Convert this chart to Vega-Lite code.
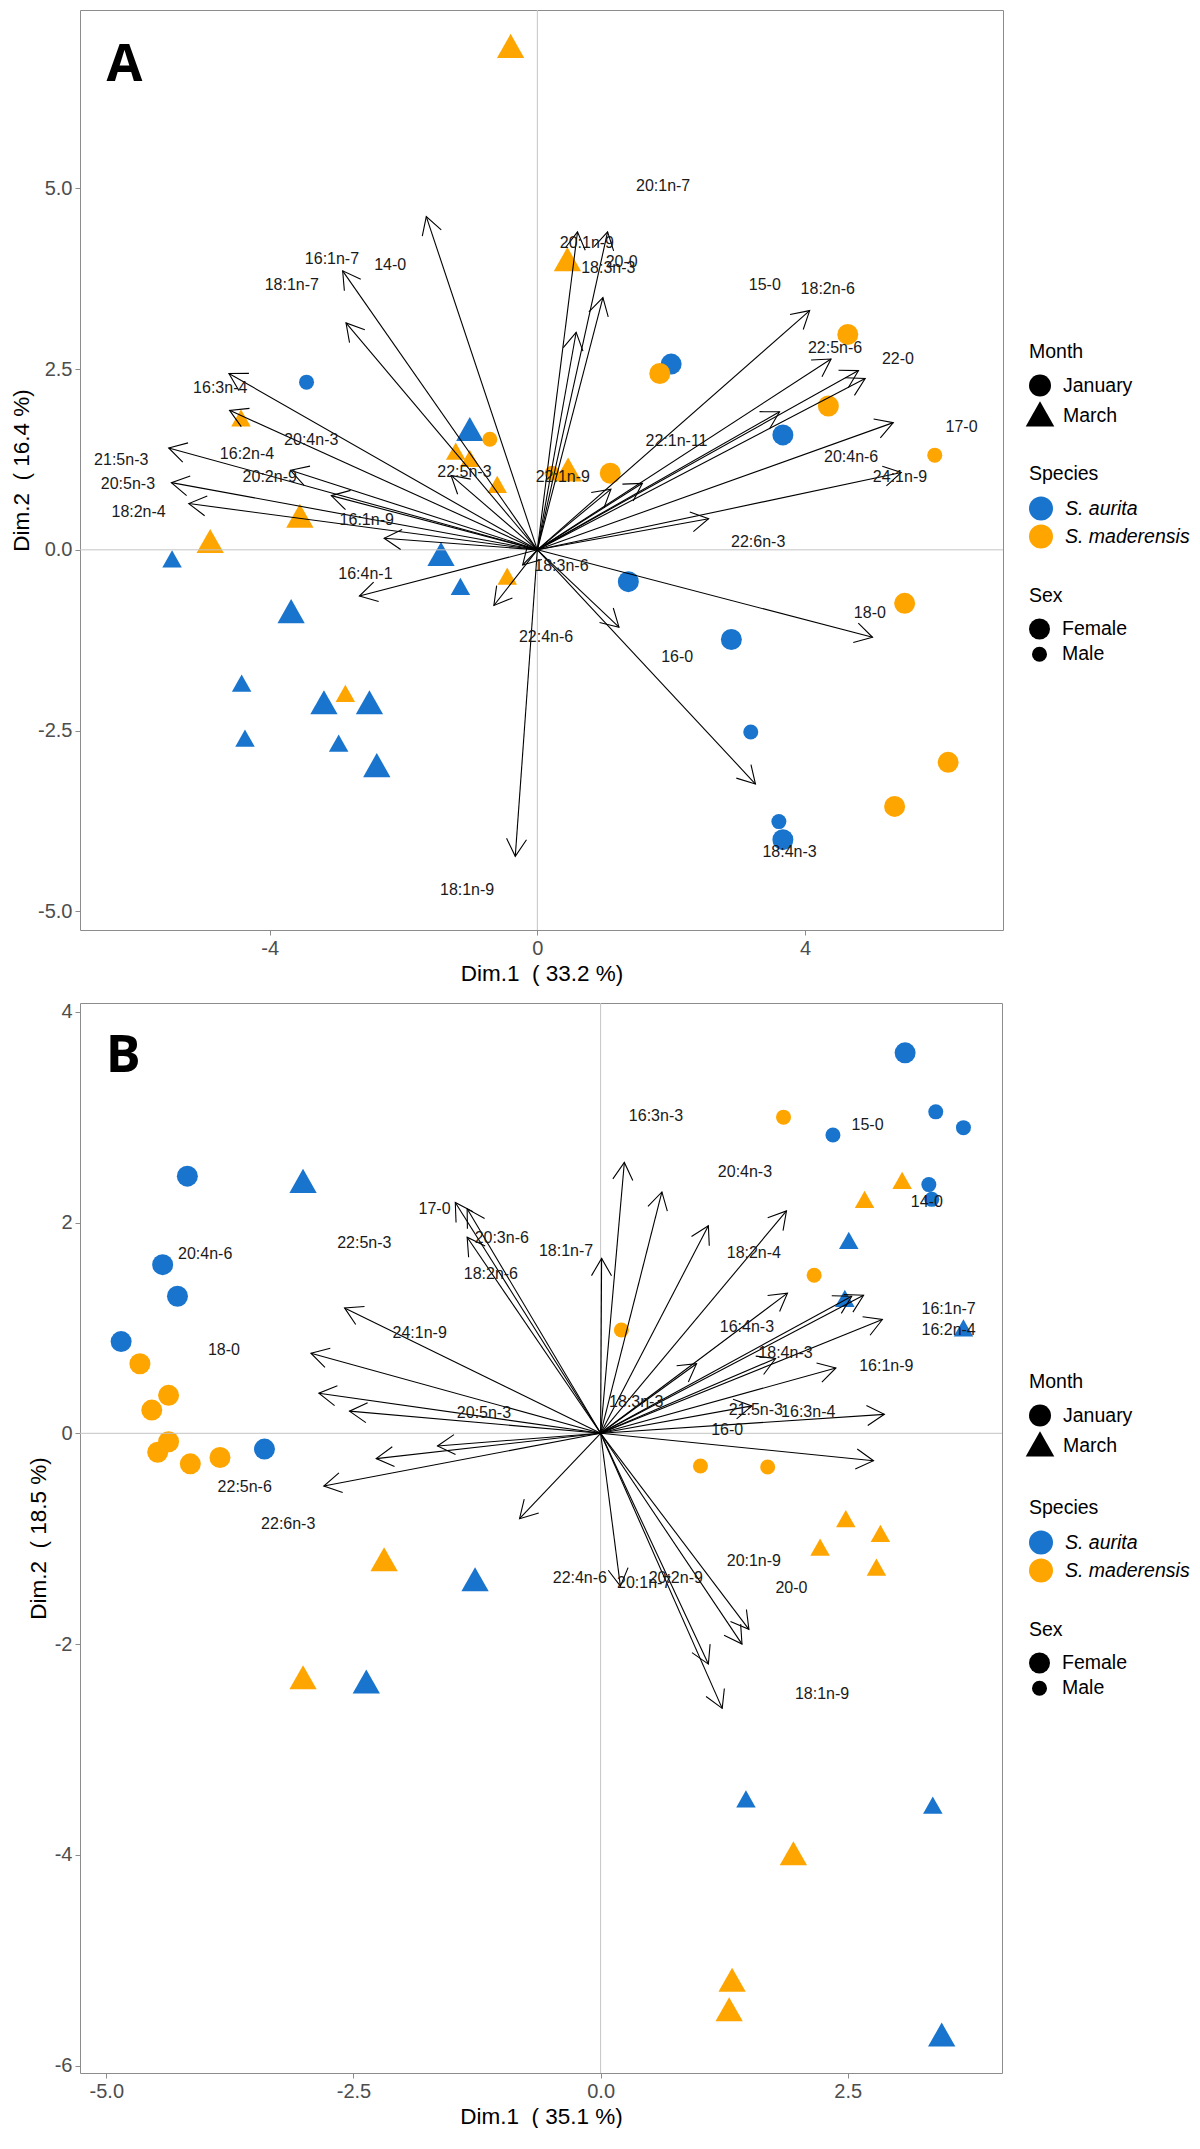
{
  "$schema": "https://vega.github.io/schema/vega-lite/v6.json",
  "autosize": {"type": "pad"},
  "padding": {"left": 10, "top": 9, "right": 0, "bottom": 0},
  "background": "white",
  "config": {
    "font": "Liberation Sans",
    "view": {"stroke": "#8c8c8c", "strokeWidth": 1},
    "axis": {"grid": false, "domain": false, "tickColor": "#8c8c8c", "tickSize": 5, "labelFontSize": 20, "labelColor": "#4d4d4d", "labelFont": "Liberation Sans", "titleFontSize": 22.5, "titleFontWeight": "normal", "titleColor": "#000000", "titleFont": "Liberation Sans", "labelPadding": 3, "titlePadding": 4, "labelExpr": "replace(datum.label, '\u2212', '-')"},
    "legend": {"titleFontSize": 19.5, "labelFontSize": 19.5, "titleFont": "Liberation Sans", "labelFont": "Liberation Sans", "titleFontWeight": "normal", "titleColor": "#000000", "labelColor": "#000000", "titlePadding": 12, "rowPadding": 4, "labelOffset": 12, "symbolStrokeWidth": 0},
    "concat": {"spacing": 73}
  },
  "datasets": {
    "pointsA": [
      {"x": -3.45, "y": 2.32, "month": "January", "species": "S. aurita", "sex": "Male"},
      {"x": 2.00, "y": 2.57, "month": "January", "species": "S. aurita", "sex": "Female"},
      {"x": 3.67, "y": 1.59, "month": "January", "species": "S. aurita", "sex": "Female"},
      {"x": 1.36, "y": -0.44, "month": "January", "species": "S. aurita", "sex": "Female"},
      {"x": 2.90, "y": -1.24, "month": "January", "species": "S. aurita", "sex": "Female"},
      {"x": 3.19, "y": -2.52, "month": "January", "species": "S. aurita", "sex": "Male"},
      {"x": 3.61, "y": -3.76, "month": "January", "species": "S. aurita", "sex": "Male"},
      {"x": 3.67, "y": -4.01, "month": "January", "species": "S. aurita", "sex": "Female"},
      {"x": -1.01, "y": 1.65, "month": "March", "species": "S. aurita", "sex": "Female"},
      {"x": -5.46, "y": -0.14, "month": "March", "species": "S. aurita", "sex": "Male"},
      {"x": -1.44, "y": -0.08, "month": "March", "species": "S. aurita", "sex": "Female"},
      {"x": -1.15, "y": -0.52, "month": "March", "species": "S. aurita", "sex": "Male"},
      {"x": -3.68, "y": -0.87, "month": "March", "species": "S. aurita", "sex": "Female"},
      {"x": -4.42, "y": -1.86, "month": "March", "species": "S. aurita", "sex": "Male"},
      {"x": -3.19, "y": -2.13, "month": "March", "species": "S. aurita", "sex": "Female"},
      {"x": -2.51, "y": -2.13, "month": "March", "species": "S. aurita", "sex": "Female"},
      {"x": -4.37, "y": -2.62, "month": "March", "species": "S. aurita", "sex": "Male"},
      {"x": -2.97, "y": -2.69, "month": "March", "species": "S. aurita", "sex": "Male"},
      {"x": -2.40, "y": -3.00, "month": "March", "species": "S. aurita", "sex": "Female"},
      {"x": -0.71, "y": 1.53, "month": "January", "species": "S. maderensis", "sex": "Male"},
      {"x": 1.09, "y": 1.06, "month": "January", "species": "S. maderensis", "sex": "Female"},
      {"x": 0.22, "y": 1.06, "month": "January", "species": "S. maderensis", "sex": "Male"},
      {"x": 1.83, "y": 2.44, "month": "January", "species": "S. maderensis", "sex": "Female"},
      {"x": 4.64, "y": 2.98, "month": "January", "species": "S. maderensis", "sex": "Female"},
      {"x": 4.35, "y": 1.99, "month": "January", "species": "S. maderensis", "sex": "Female"},
      {"x": 5.94, "y": 1.31, "month": "January", "species": "S. maderensis", "sex": "Male"},
      {"x": 5.49, "y": -0.74, "month": "January", "species": "S. maderensis", "sex": "Female"},
      {"x": 6.14, "y": -2.94, "month": "January", "species": "S. maderensis", "sex": "Female"},
      {"x": 5.34, "y": -3.55, "month": "January", "species": "S. maderensis", "sex": "Female"},
      {"x": -0.40, "y": 6.95, "month": "March", "species": "S. maderensis", "sex": "Female"},
      {"x": 0.45, "y": 4.00, "month": "March", "species": "S. maderensis", "sex": "Female"},
      {"x": -4.43, "y": 1.81, "month": "March", "species": "S. maderensis", "sex": "Male"},
      {"x": -1.22, "y": 1.35, "month": "March", "species": "S. maderensis", "sex": "Male"},
      {"x": -1.01, "y": 1.25, "month": "March", "species": "S. maderensis", "sex": "Male"},
      {"x": -0.60, "y": 0.89, "month": "March", "species": "S. maderensis", "sex": "Male"},
      {"x": 0.46, "y": 1.09, "month": "March", "species": "S. maderensis", "sex": "Female"},
      {"x": -4.89, "y": 0.10, "month": "March", "species": "S. maderensis", "sex": "Female"},
      {"x": -3.55, "y": 0.45, "month": "March", "species": "S. maderensis", "sex": "Female"},
      {"x": -0.45, "y": -0.38, "month": "March", "species": "S. maderensis", "sex": "Male"},
      {"x": -2.87, "y": -2.00, "month": "March", "species": "S. maderensis", "sex": "Male"}
    ],
    "pointsB": [
      {"x": -4.18, "y": 2.44, "month": "January", "species": "S. aurita", "sex": "Female"},
      {"x": -4.43, "y": 1.60, "month": "January", "species": "S. aurita", "sex": "Female"},
      {"x": -4.28, "y": 1.30, "month": "January", "species": "S. aurita", "sex": "Female"},
      {"x": -4.85, "y": 0.87, "month": "January", "species": "S. aurita", "sex": "Female"},
      {"x": -3.40, "y": -0.15, "month": "January", "species": "S. aurita", "sex": "Female"},
      {"x": 3.08, "y": 3.61, "month": "January", "species": "S. aurita", "sex": "Female"},
      {"x": 2.35, "y": 2.83, "month": "January", "species": "S. aurita", "sex": "Male"},
      {"x": 3.39, "y": 3.05, "month": "January", "species": "S. aurita", "sex": "Male"},
      {"x": 3.67, "y": 2.90, "month": "January", "species": "S. aurita", "sex": "Male"},
      {"x": 3.32, "y": 2.36, "month": "January", "species": "S. aurita", "sex": "Male"},
      {"x": 3.35, "y": 2.22, "month": "January", "species": "S. aurita", "sex": "Male"},
      {"x": -3.01, "y": 2.38, "month": "March", "species": "S. aurita", "sex": "Female"},
      {"x": -1.27, "y": -1.40, "month": "March", "species": "S. aurita", "sex": "Female"},
      {"x": -2.37, "y": -2.37, "month": "March", "species": "S. aurita", "sex": "Female"},
      {"x": 2.51, "y": 1.82, "month": "March", "species": "S. aurita", "sex": "Male"},
      {"x": 2.47, "y": 1.27, "month": "March", "species": "S. aurita", "sex": "Male"},
      {"x": 3.67, "y": 0.99, "month": "March", "species": "S. aurita", "sex": "Male"},
      {"x": 1.47, "y": -3.48, "month": "March", "species": "S. aurita", "sex": "Male"},
      {"x": 3.36, "y": -3.54, "month": "March", "species": "S. aurita", "sex": "Male"},
      {"x": 3.45, "y": -5.72, "month": "March", "species": "S. aurita", "sex": "Female"},
      {"x": -4.66, "y": 0.66, "month": "January", "species": "S. maderensis", "sex": "Female"},
      {"x": -4.37, "y": 0.36, "month": "January", "species": "S. maderensis", "sex": "Female"},
      {"x": -4.54, "y": 0.22, "month": "January", "species": "S. maderensis", "sex": "Female"},
      {"x": -4.37, "y": -0.08, "month": "January", "species": "S. maderensis", "sex": "Female"},
      {"x": -4.48, "y": -0.18, "month": "January", "species": "S. maderensis", "sex": "Female"},
      {"x": -4.15, "y": -0.29, "month": "January", "species": "S. maderensis", "sex": "Female"},
      {"x": -3.85, "y": -0.23, "month": "January", "species": "S. maderensis", "sex": "Female"},
      {"x": 1.85, "y": 3.00, "month": "January", "species": "S. maderensis", "sex": "Male"},
      {"x": 2.16, "y": 1.50, "month": "January", "species": "S. maderensis", "sex": "Male"},
      {"x": 0.21, "y": 0.98, "month": "January", "species": "S. maderensis", "sex": "Male"},
      {"x": 1.01, "y": -0.31, "month": "January", "species": "S. maderensis", "sex": "Male"},
      {"x": 1.69, "y": -0.32, "month": "January", "species": "S. maderensis", "sex": "Male"},
      {"x": 3.05, "y": 2.39, "month": "March", "species": "S. maderensis", "sex": "Male"},
      {"x": 2.67, "y": 2.21, "month": "March", "species": "S. maderensis", "sex": "Male"},
      {"x": -2.19, "y": -1.21, "month": "March", "species": "S. maderensis", "sex": "Female"},
      {"x": -3.01, "y": -2.33, "month": "March", "species": "S. maderensis", "sex": "Female"},
      {"x": 2.48, "y": -0.82, "month": "March", "species": "S. maderensis", "sex": "Male"},
      {"x": 2.83, "y": -0.96, "month": "March", "species": "S. maderensis", "sex": "Male"},
      {"x": 2.22, "y": -1.09, "month": "March", "species": "S. maderensis", "sex": "Male"},
      {"x": 2.79, "y": -1.28, "month": "March", "species": "S. maderensis", "sex": "Male"},
      {"x": 1.95, "y": -4.00, "month": "March", "species": "S. maderensis", "sex": "Female"},
      {"x": 1.33, "y": -5.20, "month": "March", "species": "S. maderensis", "sex": "Female"},
      {"x": 1.30, "y": -5.48, "month": "March", "species": "S. maderensis", "sex": "Female"}
    ],
    "varsA": [
      {"name": "14-0", "x": -1.66, "y": 4.61, "lx": -2.20, "ly": 3.94},
      {"name": "16:1n-7", "x": -2.91, "y": 3.86, "lx": -3.07, "ly": 4.03},
      {"name": "18:1n-7", "x": -2.86, "y": 3.14, "lx": -3.67, "ly": 3.66},
      {"name": "16:3n-4", "x": -4.61, "y": 2.44, "lx": -4.74, "ly": 2.24},
      {"name": "16:2n-4", "x": -4.60, "y": 1.93, "lx": -4.34, "ly": 1.32},
      {"name": "21:5n-3", "x": -5.51, "y": 1.41, "lx": -6.22, "ly": 1.24},
      {"name": "20:5n-3", "x": -5.47, "y": 0.93, "lx": -6.12, "ly": 0.91},
      {"name": "18:2n-4", "x": -5.21, "y": 0.64, "lx": -5.96, "ly": 0.53},
      {"name": "20:2n-9", "x": -3.69, "y": 1.10, "lx": -4.00, "ly": 1.01},
      {"name": "20:4n-3", "x": -3.08, "y": 0.75, "lx": -3.38, "ly": 1.52},
      {"name": "16:1n-9", "x": -2.29, "y": 0.16, "lx": -2.55, "ly": 0.41},
      {"name": "16:4n-1", "x": -2.66, "y": -0.64, "lx": -2.57, "ly": -0.33},
      {"name": "22:5n-3", "x": -1.29, "y": 1.03, "lx": -1.09, "ly": 1.08},
      {"name": "22:4n-6", "x": -0.65, "y": -0.77, "lx": 0.13, "ly": -1.21},
      {"name": "18:3n-6", "x": -0.22, "y": -0.21, "lx": 0.36, "ly": -0.22},
      {"name": "18:1n-9", "x": -0.33, "y": -4.24, "lx": -1.05, "ly": -4.71},
      {"name": "20:1n-9", "x": 0.60, "y": 4.40, "lx": 0.74, "ly": 4.24},
      {"name": "20:1n-7", "x": 1.05, "y": 4.40, "lx": 1.88, "ly": 5.03},
      {"name": "20-0", "x": 0.98, "y": 3.49, "lx": 1.26, "ly": 3.98},
      {"name": "18:3n-3", "x": 0.58, "y": 3.01, "lx": 1.06, "ly": 3.90},
      {"name": "18:2n-6", "x": 4.07, "y": 3.31, "lx": 4.34, "ly": 3.61},
      {"name": "15-0", "x": 4.90, "y": 2.37, "lx": 3.40, "ly": 3.67},
      {"name": "22:5n-6", "x": 4.39, "y": 2.64, "lx": 4.45, "ly": 2.79},
      {"name": "22-0", "x": 4.80, "y": 2.48, "lx": 5.39, "ly": 2.64},
      {"name": "17-0", "x": 5.32, "y": 1.76, "lx": 6.34, "ly": 1.70},
      {"name": "20:4n-6", "x": 3.62, "y": 1.91, "lx": 4.69, "ly": 1.28},
      {"name": "24:1n-9", "x": 5.44, "y": 1.07, "lx": 5.42, "ly": 1.01},
      {"name": "22:6n-3", "x": 2.56, "y": 0.43, "lx": 3.30, "ly": 0.11},
      {"name": "22:1n-11", "x": 1.57, "y": 0.92, "lx": 2.08, "ly": 1.51},
      {"name": "22:1n-9", "x": 1.10, "y": 0.84, "lx": 0.38, "ly": 1.01},
      {"name": "18-0", "x": 5.01, "y": -1.21, "lx": 4.97, "ly": -0.88},
      {"name": "16-0", "x": 1.22, "y": -1.07, "lx": 2.09, "ly": -1.48},
      {"name": "18:4n-3", "x": 3.26, "y": -3.24, "lx": 3.77, "ly": -4.18}
    ],
    "varsB": [
      {"name": "17-0", "x": -1.47, "y": 2.19, "lx": -1.68, "ly": 2.13},
      {"name": "20:3n-6", "x": -1.35, "y": 2.13, "lx": -1.00, "ly": 1.85},
      {"name": "18:2n-6", "x": -1.35, "y": 1.86, "lx": -1.11, "ly": 1.51},
      {"name": "24:1n-9", "x": -2.59, "y": 1.19, "lx": -1.83, "ly": 0.95},
      {"name": "22:5n-3", "x": -2.93, "y": 0.76, "lx": -2.39, "ly": 1.81},
      {"name": "20:4n-6", "x": -2.85, "y": 0.38, "lx": -4.00, "ly": 1.70},
      {"name": "18-0", "x": -2.54, "y": 0.21, "lx": -3.81, "ly": 0.79},
      {"name": "20:5n-3", "x": -1.65, "y": -0.12, "lx": -1.18, "ly": 0.19},
      {"name": "22:5n-6", "x": -2.27, "y": -0.24, "lx": -3.60, "ly": -0.51},
      {"name": "22:6n-3", "x": -2.80, "y": -0.50, "lx": -3.16, "ly": -0.86},
      {"name": "22:4n-6", "x": -0.82, "y": -0.81, "lx": -0.21, "ly": -1.37},
      {"name": "20:1n-7", "x": 0.20, "y": -1.45, "lx": 0.44, "ly": -1.42},
      {"name": "20:2n-9", "x": 1.09, "y": -2.19, "lx": 0.76, "ly": -1.37},
      {"name": "20:1n-9", "x": 1.50, "y": -1.86, "lx": 1.55, "ly": -1.21},
      {"name": "20-0", "x": 1.43, "y": -2.00, "lx": 1.93, "ly": -1.47},
      {"name": "18:1n-9", "x": 1.23, "y": -2.61, "lx": 2.24, "ly": -2.47},
      {"name": "16:3n-3", "x": 0.24, "y": 2.57, "lx": 0.56, "ly": 3.01},
      {"name": "20:4n-3", "x": 0.62, "y": 2.29, "lx": 1.46, "ly": 2.48},
      {"name": "18:3n-3", "x": 1.09, "y": 1.97, "lx": 0.36, "ly": 0.30},
      {"name": "18:2n-4", "x": 1.88, "y": 2.11, "lx": 1.55, "ly": 1.71},
      {"name": "18:1n-7", "x": 0.01, "y": 1.66, "lx": -0.35, "ly": 1.73},
      {"name": "16:4n-3", "x": 1.89, "y": 1.33, "lx": 1.48, "ly": 1.01},
      {"name": "15-0", "x": 2.54, "y": 1.30, "lx": 2.70, "ly": 2.93},
      {"name": "14-0", "x": 2.66, "y": 1.31, "lx": 3.30, "ly": 2.19},
      {"name": "16:1n-7", "x": 2.85, "y": 1.08, "lx": 3.52, "ly": 1.18},
      {"name": "16:2n-4", "x": 0.97, "y": 0.66, "lx": 3.52, "ly": 0.98},
      {"name": "18:4n-3", "x": 1.77, "y": 0.71, "lx": 1.87, "ly": 0.76},
      {"name": "16:1n-9", "x": 2.38, "y": 0.62, "lx": 2.89, "ly": 0.64},
      {"name": "21:5n-3", "x": 1.53, "y": 0.26, "lx": 1.57, "ly": 0.22},
      {"name": "16:3n-4", "x": 2.87, "y": 0.18, "lx": 2.10, "ly": 0.20},
      {"name": "16-0", "x": 2.76, "y": -0.26, "lx": 1.28, "ly": 0.03}
    ]
  },
  "vconcat": [
    {
      "width": 923,
      "height": 920,
      "layer": [
        {
          "data": {"name": "pointsA"},
          "mark": {"type": "point", "filled": true, "opacity": 1, "strokeWidth": 0, "color": "black"},
          "encoding": {
            "x": {"field": "x", "type": "quantitative", "scale": {"domain": [-6.836, 6.96], "nice": false, "zero": false}, "axis": {"title": "Dim.1\u00a0 ( 33.2 %)", "values": [-4, 0, 4], "format": "d"}},
            "y": {"field": "y", "type": "quantitative", "scale": {"domain": [-5.26, 7.469], "nice": false, "zero": false}, "axis": {"title": "Dim.2\u00a0 ( 16.4 %)", "values": [-5, -2.5, 0, 2.5, 5], "format": ".1f"}},
            "color": {"field": "species", "type": "nominal", "scale": {"domain": ["S. aurita", "S. maderensis"], "range": ["#1874CD", "#FFA500"]}, "legend": {"title": "Species", "orient": "none", "legendX": 949, "legendY": 455, "labelFontStyle": "italic", "symbolType": "circle", "symbolSize": 576, "symbolOpacity": 1}},
            "shape": {"field": "month", "type": "nominal", "scale": {"domain": ["January", "March"], "range": ["circle", "M0,-1.3L1.3,1L-1.3,1Z"]}, "legend": {"title": "Month", "orient": "none", "legendX": 949, "legendY": 333, "symbolSize": 484, "symbolFillColor": "black", "symbolOpacity": 1}},
            "size": {"field": "sex", "type": "ordinal", "scale": {"domain": ["Female", "Male"], "range": [441, 225]}, "legend": {"title": "Sex", "orient": "none", "legendX": 949, "legendY": 577, "symbolType": "circle", "symbolFillColor": "black", "symbolOpacity": 1}}
          }
        },
        {
          "data": {"values": [{"v": 0}]},
          "mark": {"type": "rule", "color": "#c4c4c4", "strokeWidth": 1},
          "encoding": {"x": {"field": "v", "type": "quantitative"}}
        },
        {
          "data": {"values": [{"v": 0}]},
          "mark": {"type": "rule", "color": "#c4c4c4", "strokeWidth": 1},
          "encoding": {"y": {"field": "v", "type": "quantitative"}}
        },
        {
          "data": {"name": "varsA"},
          "mark": {"type": "rule", "color": "black", "strokeWidth": 1.1},
          "encoding": {
            "x": {"field": "x", "type": "quantitative"},
            "y": {"field": "y", "type": "quantitative"},
            "x2": {"datum": 0},
            "y2": {"datum": 0}
          }
        },
        {
          "data": {"name": "varsA"},
          "transform": [{"calculate": "(atan2(-datum.y * 72.28, datum.x * 66.9) * 180 / PI + 360) % 360", "as": "ang"}],
          "mark": {"type": "point", "shape": "M-1.732,-1L0,0L-1.732,1", "size": 400, "filled": false, "color": "black", "strokeWidth": 1.1, "opacity": 1},
          "encoding": {
            "x": {"field": "x", "type": "quantitative"},
            "y": {"field": "y", "type": "quantitative"},
            "angle": {"field": "ang", "type": "quantitative", "scale": null}
          }
        },
        {
          "data": {"name": "varsA"},
          "mark": {"type": "text", "fontSize": 16, "font": "Liberation Sans", "color": "#1a1a1a", "align": "center", "baseline": "middle"},
          "encoding": {
            "x": {"field": "lx", "type": "quantitative"},
            "y": {"field": "ly", "type": "quantitative"},
            "text": {"field": "name", "type": "nominal"}
          }
        },
        {
          "data": {"values": [{"panel": "A", "x": -6.17, "y": 6.49}]},
          "mark": {"type": "text", "fontSize": 52, "font": "Open Sans", "fontWeight": "bold", "color": "black", "align": "center", "baseline": "alphabetic"},
          "encoding": {
            "x": {"field": "x", "type": "quantitative"},
            "y": {"field": "y", "type": "quantitative"},
            "text": {"field": "panel", "type": "nominal"}
          }
        }
      ]
    },
    {
      "width": 922,
      "height": 1070,
      "layer": [
        {
          "data": {"name": "pointsB"},
          "mark": {"type": "point", "filled": true, "opacity": 1, "strokeWidth": 0, "color": "black"},
          "encoding": {
            "x": {"field": "x", "type": "quantitative", "scale": {"domain": [-5.266, 4.06], "nice": false, "zero": false}, "axis": {"title": "Dim.1\u00a0 ( 35.1 %)", "values": [-5, -2.5, 0, 2.5], "format": ".1f"}},
            "y": {"field": "y", "type": "quantitative", "scale": {"domain": [-6.07, 4.083], "nice": false, "zero": false}, "axis": {"title": "Dim.2\u00a0 ( 18.5 %)", "values": [-6, -4, -2, 0, 2, 4], "format": "d"}},
            "color": {"field": "species", "type": "nominal", "scale": {"domain": ["S. aurita", "S. maderensis"], "range": ["#1874CD", "#FFA500"]}, "legend": {"title": "Species", "orient": "none", "legendX": 949, "legendY": 496, "labelFontStyle": "italic", "symbolType": "circle", "symbolSize": 576, "symbolOpacity": 1}},
            "shape": {"field": "month", "type": "nominal", "scale": {"domain": ["January", "March"], "range": ["circle", "M0,-1.3L1.3,1L-1.3,1Z"]}, "legend": {"title": "Month", "orient": "none", "legendX": 949, "legendY": 370, "symbolSize": 484, "symbolFillColor": "black", "symbolOpacity": 1}},
            "size": {"field": "sex", "type": "ordinal", "scale": {"domain": ["Female", "Male"], "range": [441, 225]}, "legend": {"title": "Sex", "orient": "none", "legendX": 949, "legendY": 618, "symbolType": "circle", "symbolFillColor": "black", "symbolOpacity": 1}}
          }
        },
        {
          "data": {"values": [{"v": 0}]},
          "mark": {"type": "rule", "color": "#c4c4c4", "strokeWidth": 1},
          "encoding": {"x": {"field": "v", "type": "quantitative"}}
        },
        {
          "data": {"values": [{"v": 0}]},
          "mark": {"type": "rule", "color": "#c4c4c4", "strokeWidth": 1},
          "encoding": {"y": {"field": "v", "type": "quantitative"}}
        },
        {
          "data": {"name": "varsB"},
          "mark": {"type": "rule", "color": "black", "strokeWidth": 1.1},
          "encoding": {
            "x": {"field": "x", "type": "quantitative"},
            "y": {"field": "y", "type": "quantitative"},
            "x2": {"datum": 0},
            "y2": {"datum": 0}
          }
        },
        {
          "data": {"name": "varsB"},
          "transform": [{"calculate": "(atan2(-datum.y * 105.39, datum.x * 98.86) * 180 / PI + 360) % 360", "as": "ang"}],
          "mark": {"type": "point", "shape": "M-1.732,-1L0,0L-1.732,1", "size": 400, "filled": false, "color": "black", "strokeWidth": 1.1, "opacity": 1},
          "encoding": {
            "x": {"field": "x", "type": "quantitative"},
            "y": {"field": "y", "type": "quantitative"},
            "angle": {"field": "ang", "type": "quantitative", "scale": null}
          }
        },
        {
          "data": {"name": "varsB"},
          "mark": {"type": "text", "fontSize": 16, "font": "Liberation Sans", "color": "#1a1a1a", "align": "center", "baseline": "middle"},
          "encoding": {
            "x": {"field": "lx", "type": "quantitative"},
            "y": {"field": "ly", "type": "quantitative"},
            "text": {"field": "name", "type": "nominal"}
          }
        },
        {
          "data": {"values": [{"panel": "B", "x": -4.83, "y": 3.43}]},
          "mark": {"type": "text", "fontSize": 52, "font": "Open Sans", "fontWeight": "bold", "color": "black", "align": "center", "baseline": "alphabetic"},
          "encoding": {
            "x": {"field": "x", "type": "quantitative"},
            "y": {"field": "y", "type": "quantitative"},
            "text": {"field": "panel", "type": "nominal"}
          }
        }
      ]
    }
  ],
  "bounds": "flush",
  "resolve": {
    "scale": {"color": "independent", "shape": "independent", "size": "independent"},
    "legend": {"color": "independent", "shape": "independent", "size": "independent"}
  }
}
